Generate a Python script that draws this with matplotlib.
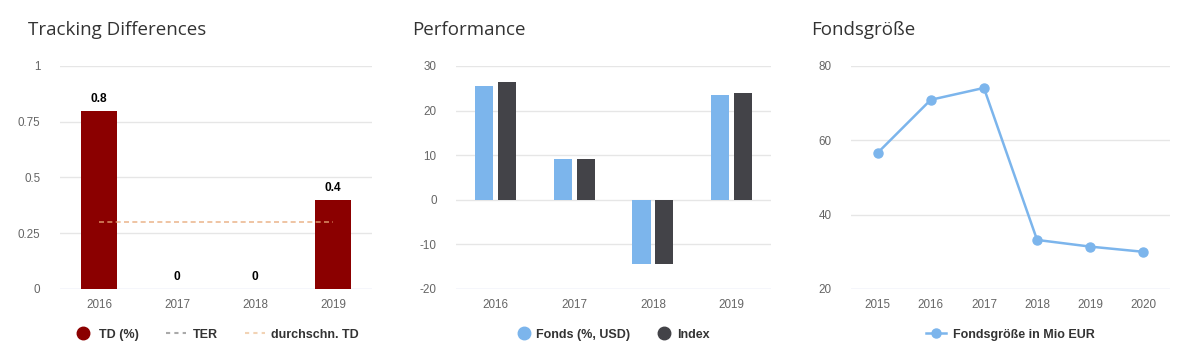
import matplotlib
matplotlib.use("Agg")
import matplotlib.pyplot as plt
from matplotlib.lines import Line2D
import numpy as np

plt.rcParams['font.family'] = ['Liberation Sans', 'DejaVu Sans']

# data
td_years = ['2016', '2017', '2018', '2019']
td_values = [0.8, 0.0, 0.0, 0.4]
td_avg = 0.3

perf_years = ['2016', '2017', '2018', '2019']
perf_fonds = [25.6, 9.2, -14.3, 23.5]
perf_index = [26.5, 9.2, -14.3, 24.0]

size_years = ['2015', '2016', '2017', '2018', '2019', '2020']
size_values = [56.6, 70.9, 74.1, 33.2, 31.4, 30.0]

GRID = '#e6e6e6'
TICK = '#666666'
TITLE = '#333333'
RED = '#8b0000'
BLUE = '#7cb5ec'
DARK = '#434348'
LEG_Y = -0.205


def style_axis(ax, ylim, yticks, ylabels, n):
    ax.set_xlim(-0.5, n - 0.5)
    ax.set_ylim(*ylim)
    ax.set_yticks(yticks)
    ax.set_yticklabels(ylabels)
    for y in yticks[1:]:
        ax.axhline(y, color=GRID, lw=1, zorder=0)
    ax.axhline(yticks[0], color='#ccd6eb', lw=1, zorder=0)
    for s in ax.spines.values():
        s.set_visible(False)
    ax.tick_params(axis='both', length=0, colors=TICK, labelsize=8.4)
    ax.tick_params(axis='y', pad=14)
    ax.tick_params(axis='x', pad=7)


fig = plt.figure(figsize=(11.87, 3.62), dpi=100)
fig.patch.set_facecolor('white')

# --- Tracking Differences ---
ax1 = fig.add_axes([0.0505, 0.2017, 0.2629, 0.616])
x = np.arange(len(td_years))
ax1.bar(x, td_values, width=0.47, color=RED, zorder=2)
ax1.plot([x[0], x[-1]], [td_avg, td_avg], ls=(0, (3, 2)), color='#e8a878', alpha=0.8, lw=1.2, zorder=3)
for xi, v in zip(x, td_values):
    ax1.text(xi, v + 0.025, f'{v:g}', ha='center', va='bottom', fontsize=8.6, fontweight='bold', color='black')
ax1.set_xticks(x)
ax1.set_xticklabels(td_years)
style_axis(ax1, (0, 1), [0, 0.25, 0.5, 0.75, 1], ['0', '0.25', '0.5', '0.75', '1'], len(td_years))
h1 = [Line2D([], [], marker='o', ls='none', color=RED, markersize=9),
      Line2D([], [], ls=(0, (2, 2)), color='#aaaaaa', lw=1.5),
      Line2D([], [], ls=(0, (2, 2)), color='#f2d3b5', lw=1.5)]
ax1.legend(h1, ['TD (%)', 'TER', 'durchschn. TD'], loc='center', bbox_to_anchor=(0.5, LEG_Y),
           ncol=3, frameon=False, prop={'weight': 'bold', 'size': 9}, labelcolor=TITLE,
           handlelength=1.6, columnspacing=2.2, handletextpad=0.5)
fig.text(28 / 1187, 1 - 30 / 362, 'Tracking Differences', fontsize=13.5, color=TITLE,
         family='Open Sans', va='center', ha='left')

# --- Performance ---
ax2 = fig.add_axes([0.3842, 0.2017, 0.2654, 0.616])
x = np.arange(len(perf_years))
w = 0.23
ax2.bar(x - 0.145, perf_fonds, width=w, color=BLUE, zorder=2)
ax2.bar(x + 0.145, perf_index, width=w, color=DARK, zorder=2)
ax2.set_xticks(x)
ax2.set_xticklabels(perf_years)
style_axis(ax2, (-20, 30), [-20, -10, 0, 10, 20, 30], ['-20', '-10', '0', '10', '20', '30'], len(perf_years))
h2 = [Line2D([], [], marker='o', ls='none', color=BLUE, markersize=9),
      Line2D([], [], marker='o', ls='none', color=DARK, markersize=9)]
ax2.legend(h2, ['Fonds (%, USD)', 'Index'], loc='center', bbox_to_anchor=(0.5, LEG_Y),
           ncol=2, frameon=False, prop={'weight': 'bold', 'size': 9}, labelcolor=TITLE,
           handlelength=1.0, columnspacing=2.2, handletextpad=0.5)
fig.text(412 / 1187, 1 - 30 / 362, 'Performance', fontsize=13.5, color=TITLE,
         family='Open Sans', va='center', ha='left')

# --- Fondsgröße ---
ax3 = fig.add_axes([0.7169, 0.2017, 0.2688, 0.616])
x = np.arange(len(size_years))
ax3.plot(x, size_values, color=BLUE, lw=1.8, marker='o', markersize=6.5, zorder=3)
ax3.set_xticks(x)
ax3.set_xticklabels(size_years)
style_axis(ax3, (20, 80), [20, 40, 60, 80], ['20', '40', '60', '80'], len(size_years))
h3 = [Line2D([], [], marker='o', color=BLUE, lw=1.8, markersize=6.5)]
ax3.legend(h3, ['Fondsgröße in Mio EUR'], loc='center', bbox_to_anchor=(0.5, LEG_Y),
           ncol=1, frameon=False, prop={'weight': 'bold', 'size': 9}, labelcolor=TITLE,
           handlelength=1.6, handletextpad=0.5)
fig.text(811 / 1187, 1 - 30 / 362, 'Fondsgröße', fontsize=13.5, color=TITLE,
         family='Open Sans', va='center', ha='left')

fig.savefig('out.png', dpi=100, facecolor='white')
